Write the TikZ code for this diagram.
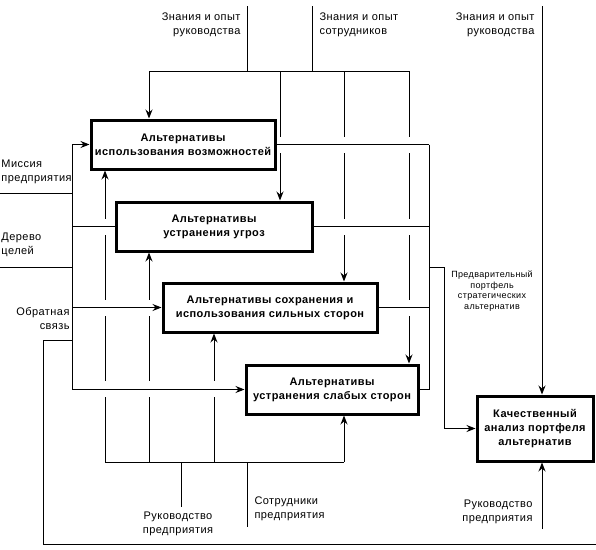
\documentclass[tikz,border=0pt]{standalone}
\usepackage{fontspec}
\setmainfont[LetterSpace=4]{Liberation Sans}
\usetikzlibrary{arrows.meta}

\begin{document}
\begin{tikzpicture}[x=1pt,y=-1pt,line width=1pt,
	blok/.style={draw,line width=3pt,align=center,inner sep=0pt,font=\fontsize{11}{14}\selectfont\bfseries},
	lbl/.style={inner sep=0pt,font=\fontsize{11}{14}\selectfont},
	arr/.style={-{Stealth[length=9pt,width=7pt,inset=3pt]}}]
	\useasboundingbox (0,0) rectangle (596,549);
	
	% blocks
	\node[blok,minimum width=184pt,minimum height=49pt] (b1) at (183,144.5) {Альтернативы\\использования возможностей};
	\node[blok,minimum width=196pt,minimum height=49pt] (b2) at (214,226.5) {Альтернативы\\устранения угроз};
	\node[blok,minimum width=214pt,minimum height=49pt] (b3) at (270,307.5) {Альтернативы сохранения и\\использования сильных сторон};
	\node[blok,minimum width=172pt,minimum height=49pt] (b4) at (332,389.5) {Альтернативы\\устранения слабых сторон};
	\node[blok,minimum width=116pt,minimum height=65pt] (b5) at (535,428.5) {Качественный\\анализ портфеля\\альтернатив};
	
	\coordinate (lb) at (72,0);
	\coordinate (tb) at (0,71);
	\coordinate (mb) at (0,462);
	\coordinate (ob) at (429,0);
	
	% controls and mechanisms
	\draw (149,0 |- tb) -- (409,0 |- tb);
	\draw (105,0 |- mb) -- (344,0 |- mb);
	\foreach \x/\b in {149/b1,280/b2,344/b3,409/b4}
	\draw[arr] (\x,0 |- tb) -- (\x,0 |- \b.north);
	\foreach \x/\b in {105/b1,149/b2,214/b3,344/b4}
	\draw[arr] (\x,0 |- mb) -- (\x,0 |- \b.south);
	\draw (247,6) -- (247,0 |- tb);
	\draw (312,6) -- (312,0 |- tb);
	\draw (181,0 |- mb) -- (181,507);
	\draw (247,0 |- mb) -- (247,527);
	
	% gaps
	\foreach \x/\y in {105/227,105/308,105/389,149/308,149/389,214/389,280/145,344/145,344/227,409/145,409/227,409/308}
	\fill[white] (\x-2,\y-8) rectangle (\x+2,\y+8);
	
	% inputs
	\coordinate (mis) at (0,193);
	\coordinate (der) at (0,267);
	\coordinate (fb) at (596,544);
	\draw (mis) -- (mis -| lb);
	\draw (der) -- (der -| lb);
	\draw (fb) -| (43,340) -- (lb |- 0,340);
	\draw (lb |- b1.west) -- (lb |- b4.west);
	\draw[arr] (lb |- b1.west) -- (b1.west);
	\draw (lb |- b2.west) -- (b2.west);
	\draw[arr] (lb |- b3.west) -- (b3.west);
	\draw[arr] (lb |- b4.west) -- (b4.west);
	
	% outputs
	\foreach \b in {b1,b2,b3,b4}
	\draw (\b.east) -- (\b.east -| ob);
	\draw (b1.east -| ob) -- (b4.east -| ob);
	\draw[arr] (ob |- 0,267) -- (444,267) |- (b5.west);
	\draw[arr] (542,6) -- (542,0 |- b5.north);
	\draw[arr] (542,529) -- (542,0 |- b5.south);
	
	% labels
	\node[lbl,anchor=east,align=right] (lzr) at (241,25) {Знания и опыт\\руководства};
	\node[lbl,anchor=west,align=left] (lzs) at (319,25) {Знания и опыт\\сотрудников};
	\node[lbl,anchor=east,align=right] (lzr2) at (535,25) {Знания и опыт\\руководства};
	\node[lbl,anchor=west,align=left] (lmis) at (1,172) {Миссия\\предприятия};
	\node[lbl,anchor=west,align=left] (lder) at (1,245) {Дерево\\целей};
	\node[lbl,anchor=east,align=right] (lfb) at (70,319) {Обратная\\связь};
	\node[lbl,align=center] (lrp) at (178,524) {Руководство\\предприятия};
	\node[lbl,anchor=west,align=left] (lsp) at (254,509) {Сотрудники\\предприятия};
	\node[lbl,anchor=east,align=right] (lrp2) at (533,512) {Руководство\\предприятия};
	\node[inner sep=0pt,align=center,font=\fontsize{9}{10.8}\selectfont] (lpf) at (492,291) {Предварительный\\портфель\\стратегических\\альтернатив};
\end{tikzpicture}
\end{document}
